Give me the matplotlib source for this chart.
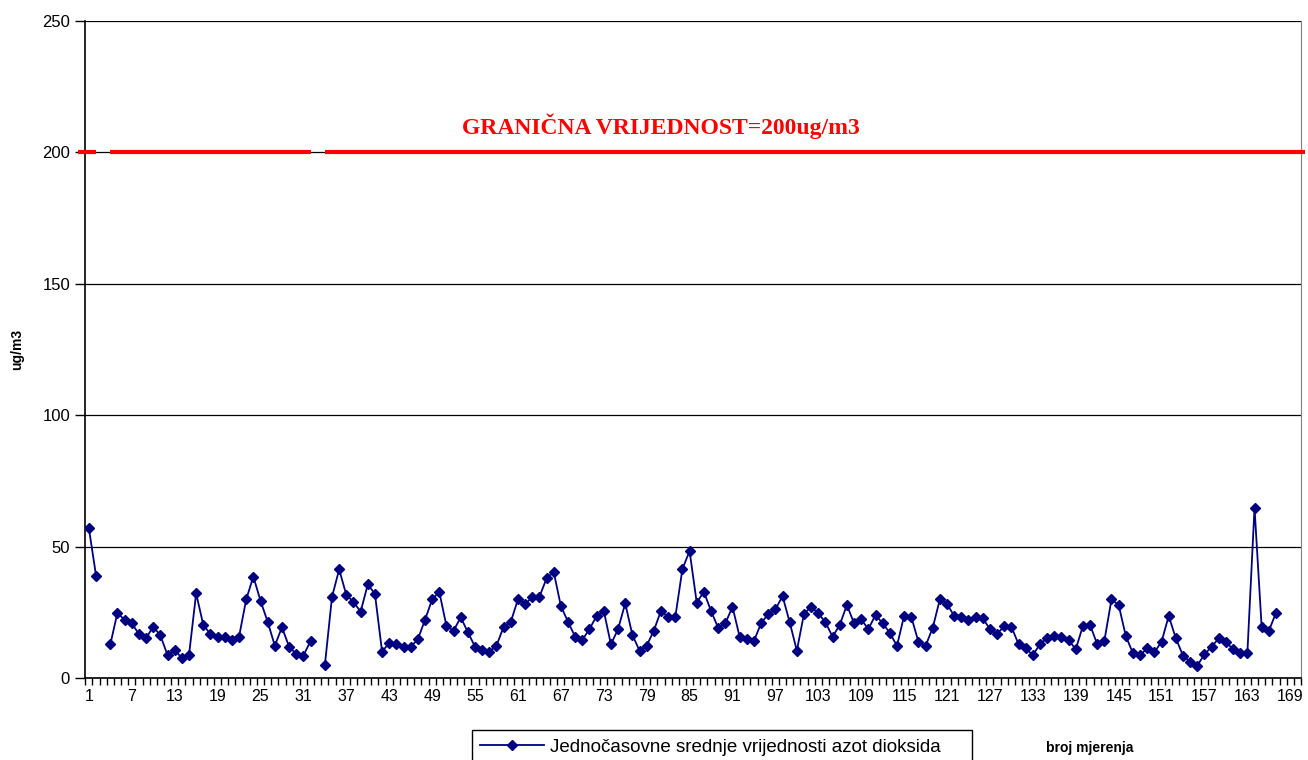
import numpy as np
import matplotlib.pyplot as plt

plt.rcParams["font.family"] = ["Liberation Sans", "DejaVu Sans"]

# jednocasovne vrijednosti NO2 (ug/m3), mjerenja 3 i 33 nedostaju
no2 = [
    57, 39, None, 12.8, 24.9, 22.0, 20.8, 16.7, 15.2, 19.5,
    16.2, 8.7, 10.6, 7.6, 8.7, 32.2, 20.2, 16.7, 15.7, 15.7,
    14.5, 15.7, 29.9, 38.6, 29.4, 21.4, 12.3, 19.3, 11.9, 9.1,
    8.5, 14.1, None, 4.9, 30.9, 41.3, 31.6, 29.0, 25.2, 35.6,
    32.0, 10.0, 13.4, 12.9, 11.9, 11.9, 14.7, 22.1, 29.9, 32.8,
    19.8, 18.0, 23.1, 17.4, 11.9, 10.7, 10.0, 12.3, 19.5, 21.4,
    29.9, 28.2, 30.7, 30.9, 37.9, 40.4, 27.4, 21.4, 15.7, 14.5,
    18.6, 23.6, 25.6, 12.8, 18.6, 28.4, 16.4, 10.4, 12.3, 18.0,
    25.6, 23.1, 23.1, 41.5, 48.3, 28.7, 32.8, 25.5, 19.1, 20.8,
    27.1, 15.7, 14.7, 14.1, 20.8, 24.4, 26.1, 31.2, 21.2, 10.4,
    24.4, 27.1, 24.6, 21.2, 15.7, 20.2, 27.8, 20.8, 22.3, 18.6,
    24.0, 20.8, 17.2, 12.2, 23.7, 23.3, 13.8, 12.2, 19.1, 29.9,
    28.2, 23.6, 23.3, 22.0, 23.1, 22.7, 18.6, 16.7, 19.8, 19.5,
    12.9, 11.3, 8.7, 12.9, 15.3, 16.0, 15.5, 14.5, 10.9, 19.8,
    20.2, 12.9, 14.1, 29.9, 27.8, 16.0, 9.4, 8.7, 11.3, 9.8,
    13.8, 23.6, 15.1, 8.5, 6.2, 4.7, 9.0, 11.9, 15.1, 13.8,
    10.9, 9.4, 9.4, 64.8, 19.3, 17.9, 24.8,
]
granicna = 200
n_kategorija = 170
x_labels = list(range(1, 170, 6))

y = np.array([np.nan if v is None else v for v in no2], dtype=float)
x = np.arange(1, len(y) + 1)

fig = plt.figure(figsize=(13.08, 7.6), dpi=100)
ax = fig.add_axes([85.3 / 1308, 82 / 760, 1215.7 / 1308, 657 / 760])

# granicna vrijednost, prekinuta tamo gdje nema mjerenja
red_y = np.where(np.isnan(y), np.nan, granicna)
red_x = np.concatenate([[-0.5], x, [n_kategorija + 1]])
red_y = np.concatenate([[granicna], red_y, [granicna]])
ax.plot(red_x, red_y, color="#ff0000", lw=3.0, zorder=3, clip_on=False,
        solid_capstyle="butt")

ax.plot(x, y, color="#000080", lw=1.3, marker="D", ms=5.2, mfc="#000080",
        mec="#000080", zorder=4,
        label="Jednočasovne srednje vrijednosti azot dioksida")

ax.set_xlim(0.5, n_kategorija + 0.5)
ax.set_ylim(0, 250)
ax.set_yticks([0, 50, 100, 150, 200, 250])
ax.yaxis.grid(True, color="black", lw=0.9)
ax.set_axisbelow(True)

ax.set_xticks(x_labels)
ax.set_xticks(np.arange(0.5, n_kategorija + 1), minor=True)
ax.tick_params(axis="x", which="major", length=0, pad=8, labelsize=11.5)
ax.tick_params(axis="x", which="minor", length=5, width=1, color="black")
ax.tick_params(axis="y", length=7, width=1, labelsize=12, pad=4)

for s in ["left", "bottom"]:
    ax.spines[s].set_color("black")
    ax.spines[s].set_linewidth(1.2)
ax.spines["right"].set_color("#808080")
ax.spines["top"].set_visible(False)

ax.set_ylabel("ug/m3", fontsize=10, fontweight="bold")
ax.yaxis.set_label_coords(-0.05, 0.5)

ax.text(81, 210, "GRANIČNA VRIJEDNOST=200ug/m3", color="#ff0000",
        fontsize=17, fontweight="bold", family="Liberation Serif",
        ha="center", va="center")

fig.text(1090 / 1308, 1 - 748 / 760, "broj mjerenja", fontsize=10,
         fontweight="bold", ha="center", va="center")

leg = fig.legend(loc="upper left", bbox_to_anchor=(472 / 1308, 0,
                 500 / 1308, 30 / 760), mode="expand", fontsize=13.5,
                 fancybox=False, edgecolor="black", framealpha=1,
                 handlelength=3.4, handletextpad=0.3, borderpad=0.45,
                 borderaxespad=0)
leg.get_frame().set_linewidth(1)

fig.savefig("out.png", dpi=100)
